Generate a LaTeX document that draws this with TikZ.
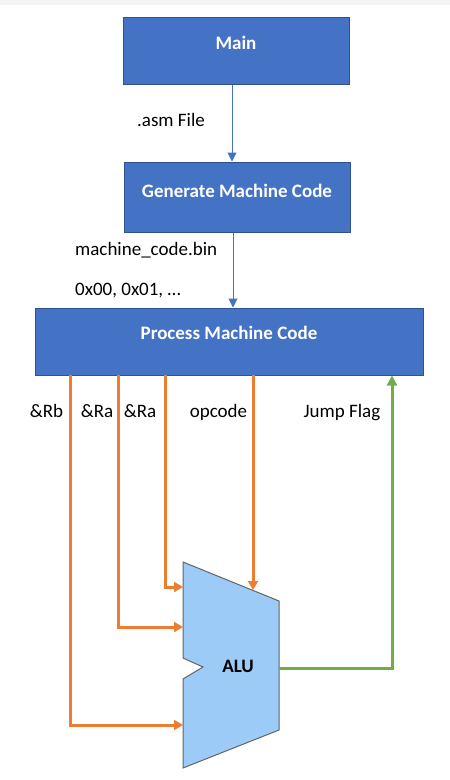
\documentclass[tikz,border=0pt]{standalone}
\usepackage{fontspec}
\setmainfont{Carlito}
\usetikzlibrary{arrows.meta}
\definecolor{boxblue}{RGB}{68,114,196}
\definecolor{boxedge}{RGB}{47,82,143}
\definecolor{aluface}{RGB}{157,203,248}
\definecolor{aluedge}{RGB}{100,100,100}
\definecolor{orng}{RGB}{237,125,49}
\definecolor{grn}{RGB}{112,173,71}
\definecolor{strip}{RGB}{243,243,243}
\tikzset{
  bluebox/.style={draw=boxedge,line width=1pt,fill=boxblue,inner sep=0pt},
  boxtext/.style={text=white,font=\fontsize{19}{23}\selectfont\bfseries,anchor=base,inner sep=0pt},
  lbl/.style={font=\fontsize{19}{23}\selectfont,anchor=base,inner sep=0pt},
  bluearrow/.style={draw=boxblue,line width=1pt,-{Triangle[length=9pt,width=9pt]}},
  orangearrow/.style={draw=orng,line width=3pt,-{Triangle[length=9pt,width=10pt]}},
  greenarrow/.style={draw=grn,line width=3pt,-{Triangle[length=10pt,width=10pt]}}
}
\begin{document}
\begin{tikzpicture}[x=1pt,y=-1pt]
\useasboundingbox (0,0) rectangle (450,780);
\fill[strip] (0,0) rectangle (450,5);
% boxes
\node[bluebox,minimum width=226pt,minimum height=67pt] (main) at (236,50.5) {};
\node[boxtext] (mainT) at (236,49) {Main};
\node[bluebox,minimum width=226pt,minimum height=70pt] (gen) at (237,197) {};
\node[boxtext] (genT) at (237,197) {Generate Machine Code};
\node[bluebox,minimum width=388pt,minimum height=67pt] (proc) at (229,341.5) {};
\node[boxtext] (procT) at (229,339) {Process Machine Code};
% blue connectors
\draw[bluearrow] (main.south -| 232,0) -- (gen.north -| 232,0);
\draw[bluearrow] (gen.south -| 233,0) -- (proc.north -| 233,0);
\node[lbl] (asm) at (171,126) {.asm File};
\node[lbl,anchor=base west] (bin) at (75,255) {machine\_code.bin};
\node[lbl,anchor=base west] (hex) at (75,295) {0x00, 0x01, …};
% ALU
\draw[fill=aluface,draw=aluedge,line width=1pt]
  (183,562) -- (279,601) -- (279,730) -- (183,768) -- (183,679) -- (203,667) -- (183,658) -- cycle;
\node[font=\fontsize{19}{23}\selectfont\bfseries,anchor=base,inner sep=0pt] (alu) at (238,672) {ALU};
\coordinate (aluA) at (183,587);
\coordinate (aluB) at (183,627);
\coordinate (aluC) at (183,725);
\coordinate (aluOp) at (253,590);
\coordinate (aluOut) at (279,668);
\coordinate (pRb) at (70,375);
\coordinate (pRa1) at (118,375);
\coordinate (pRa2) at (165,375);
\coordinate (pOp) at (253,375);
\coordinate (pJ) at (392,375.5);
% orange connectors
\draw[orangearrow] (pRb) |- (aluC);
\draw[orangearrow] (pRa1) |- (aluB);
\draw[orangearrow] (pRa2) |- (aluA);
\draw[orangearrow] (pOp) -- (aluOp);
% green connector
\draw[greenarrow] (aluOut) -| (pJ);
% labels
\node[lbl] (lRb) at (46.5,417) {\&Rb};
\node[lbl] (lRa1) at (97,417) {\&Ra};
\node[lbl] (lRa2) at (140,417) {\&Ra};
\node[lbl] (lop) at (218.5,417) {opcode};
\node[lbl] (ljf) at (342,417) {Jump Flag};
\end{tikzpicture}
\end{document}
